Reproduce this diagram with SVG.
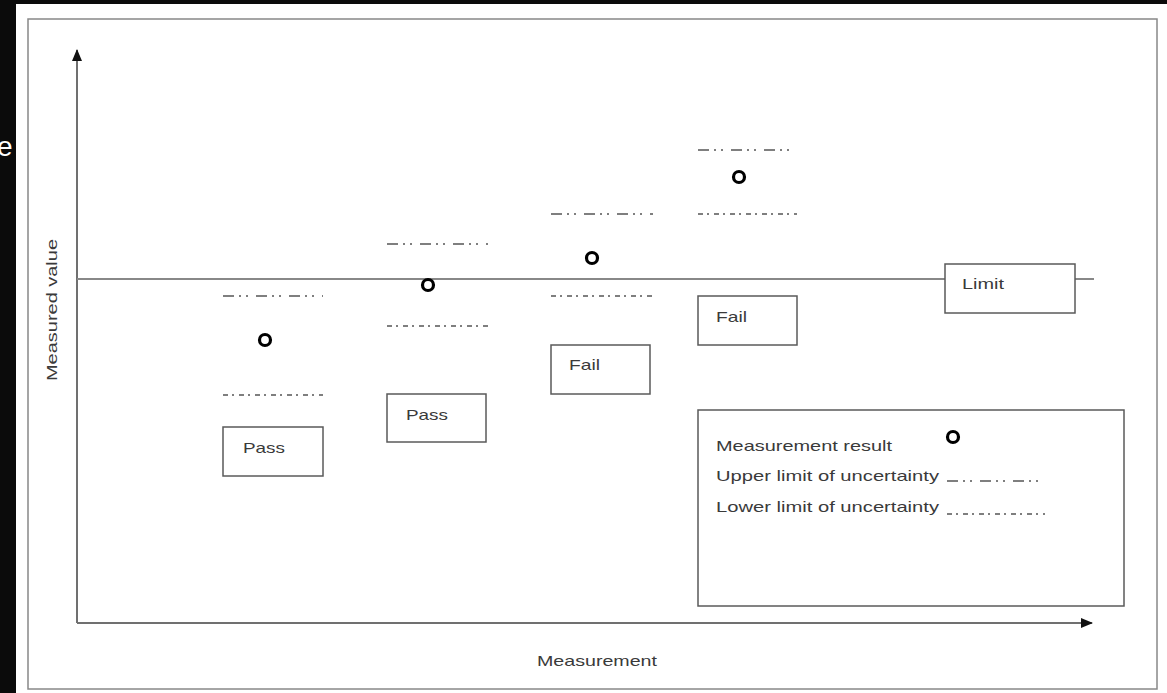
<svg xmlns="http://www.w3.org/2000/svg" width="1167" height="693" viewBox="0 0 1167 693">
<defs>
<style>
.t{font-family:"Liberation Sans",Arial,sans-serif;font-size:15px;fill:#3a3a3a}
.box{fill:#fff;stroke:#5a5a5a;stroke-width:1.5}
.ax{stroke:#707070;stroke-width:2;fill:none}
.up{stroke:#555;stroke-width:1.6;stroke-dasharray:11 5 2 5 2 8}
.lo{stroke:#555;stroke-width:1.6;stroke-dasharray:5 4 2 5}
.res{fill:none;stroke:#000;stroke-width:3.2}
</style>
<marker id="ah" viewBox="0 0 12 10" refX="11" refY="5" markerWidth="12" markerHeight="10" markerUnits="userSpaceOnUse" orient="auto"><path d="M0,0 L12,5 L0,10 Z" fill="#111"/></marker>
</defs>
<rect width="1167" height="693" fill="#0b0b0b"/>
<rect x="16" y="4" width="1151" height="689" fill="#fff"/>
<text x="-3" y="156" style="font-family:'Liberation Sans',Arial,sans-serif;font-size:28px;fill:#fff">e</text>
<rect x="28" y="19" width="1129" height="670" fill="none" stroke="#888" stroke-width="1.5"/>
<g id="connectors">
<line class="ax" x1="77" y1="623" x2="77" y2="50" marker-end="url(#ah)"/>
<line class="ax" x1="77" y1="623" x2="1092" y2="623" marker-end="url(#ah)"/>
<line x1="77" y1="279" x2="945" y2="279" stroke="#888" stroke-width="2"/>
<line x1="1075" y1="279" x2="1094" y2="279" stroke="#888" stroke-width="2"/>
</g>
<text class="t" transform="translate(57,310) rotate(-90)" text-anchor="middle" textLength="142" lengthAdjust="spacingAndGlyphs">Measured value</text>
<text class="t" x="537" y="666" textLength="120" lengthAdjust="spacingAndGlyphs">Measurement</text>
<g id="m1">
<line class="up" x1="223" y1="296" x2="323" y2="296"/>
<circle class="res" cx="265" cy="340" r="5.5"/>
<line class="lo" x1="223" y1="395" x2="323" y2="395"/>
<rect class="box" x="223" y="427" width="100" height="49"/>
<text class="t" x="243" y="453" textLength="42" lengthAdjust="spacingAndGlyphs">Pass</text>
</g>
<g id="m2">
<line class="up" x1="387" y1="244" x2="488" y2="244"/>
<circle class="res" cx="428" cy="285" r="5.5"/>
<line class="lo" x1="387" y1="326" x2="488" y2="326"/>
<rect class="box" x="387" y="394" width="99" height="48"/>
<text class="t" x="406" y="420" textLength="42" lengthAdjust="spacingAndGlyphs">Pass</text>
</g>
<g id="m3">
<line class="up" x1="551" y1="214" x2="653" y2="214"/>
<circle class="res" cx="592" cy="258" r="5.5"/>
<line class="lo" x1="551" y1="296" x2="653" y2="296"/>
<rect class="box" x="551" y="345" width="99" height="49"/>
<text class="t" x="569" y="370" textLength="31" lengthAdjust="spacingAndGlyphs">Fail</text>
</g>
<g id="m4">
<line class="up" x1="698" y1="150" x2="797" y2="150"/>
<circle class="res" cx="739" cy="177" r="5.5"/>
<line class="lo" x1="698" y1="214" x2="797" y2="214"/>
<rect class="box" x="698" y="296" width="99" height="49"/>
<text class="t" x="716" y="322" textLength="31" lengthAdjust="spacingAndGlyphs">Fail</text>
</g>
<g id="limit">
<rect class="box" x="945" y="264" width="130" height="49"/>
<text class="t" x="962" y="289" textLength="42" lengthAdjust="spacingAndGlyphs">Limit</text>
</g>
<g id="legend">
<rect class="box" x="698" y="410" width="426" height="196"/>
<text class="t" x="716" y="451" textLength="176" lengthAdjust="spacingAndGlyphs">Measurement result</text>
<circle class="res" cx="953" cy="437" r="5.5"/>
<text class="t" x="716" y="481" textLength="223" lengthAdjust="spacingAndGlyphs">Upper limit of uncertainty</text>
<line class="up" x1="947" y1="481" x2="1045" y2="481"/>
<text class="t" x="716" y="512" textLength="223" lengthAdjust="spacingAndGlyphs">Lower limit of uncertainty</text>
<line class="lo" x1="947" y1="514" x2="1045" y2="514"/>
</g>
</svg>
